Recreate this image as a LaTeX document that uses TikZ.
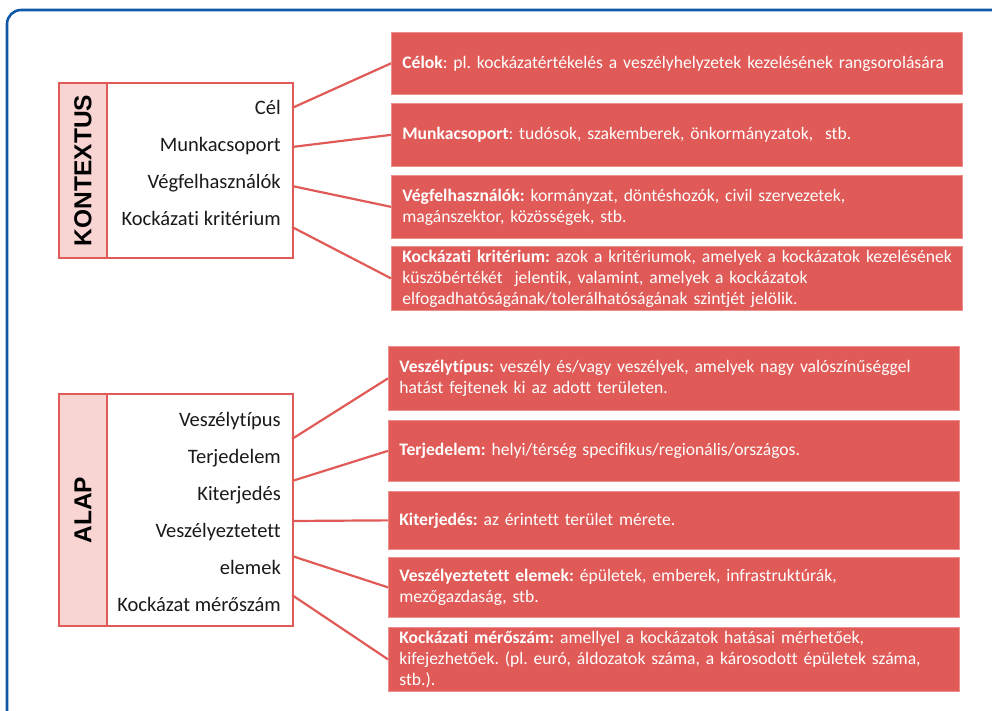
\documentclass[tikz,border=0pt]{standalone}
\usepackage{fontspec}
\setmainfont{Carlito}[Ligatures=NoCommon]
\newfontfamily\hdfont{Liberation Sans}
\definecolor{boxred}{HTML}{E05A57}
\definecolor{boxedge}{HTML}{EC8E8B}
\definecolor{linered}{HTML}{E05A57}
\definecolor{pinkfill}{HTML}{F8D4D2}
\definecolor{frameblue}{HTML}{0F58A8}
\definecolor{labtext}{HTML}{1A1A1A}
\hbadness=10000 \hfuzz=40pt
\begin{document}
\frenchspacing
\begin{tikzpicture}[x=1pt,y=-1pt,
  lab/.style={font=\fontsize{20.5}{22}\selectfont, text=labtext, anchor=base east, inner sep=0pt},
  rbox/.style={fill=boxred, draw=boxedge, line width=0.7pt, text=white,
    font=\fontsize{17.6}{21}\selectfont, align=left, text width=549pt,
    inner xsep=11pt, inner ysep=0pt, anchor=north west, minimum height=#1},
  conn/.style={draw=linered, line width=2.2pt},
  outerbox/.style={draw=linered, line width=2pt, fill=white, anchor=north west, inner sep=0pt},
  colbox/.style={draw=linered, line width=2pt, fill=pinkfill, anchor=north west, inner sep=0pt},
  headtxt/.style={rotate=90, font=\hdfont\bfseries\fontsize{24.5}{26}\selectfont, text=black}
]
\useasboundingbox (0,0) rectangle (992,711);
\begin{scope}
  \clip (0,0) rectangle (992,711);
  \draw[frameblue, line width=2.6pt, rounded corners=14pt] (7,10) rectangle (1010,730);
\end{scope}

% ---------- KONTEXTUS ----------
\node[outerbox, minimum width=234pt, minimum height=175pt] (kbox) at (58,82) {};
\node[colbox, minimum width=48pt, minimum height=175pt] (kcol) at (58,82) {};
\node[headtxt] (khead) at (kcol.center) {KONTEXTUS};
\node[lab] (k1) at (281,114.5) {Cél};
\node[lab] (k2) at (281,151.5) {Munkacsoport};
\node[lab] (k3) at (281,188.5) {Végfelhasználók};
\node[lab] (k4) at (281,225.5) {Kockázati kritérium};

\node[rbox=62pt] (r1) at (391,32) {\mbox{\textbf{Célok}: pl. kockázatértékelés a veszélyhelyzetek kezelésének rangsorolására}};
\node[rbox=63pt] (r2) at (391,103) {\mbox{\textbf{Munkacsoport}: tudósok, szakemberek, önkormányzatok,\ \ stb.}};
\node[rbox=63pt] (r3) at (391,175) {\mbox{\textbf{Végfelhasználók:} kormányzat, döntéshozók, civil szervezetek,}\\ \mbox{magánszektor, közösségek, stb.}};
\node[rbox=64pt] (r4) at (391,246) {\mbox{\textbf{Kockázati kritérium:} azok a kritériumok, amelyek a kockázatok kezelésének}\\ \mbox{küszöbértékét\ \ jelentik, valamint, amelyek a kockázatok}\\ \mbox{elfogadhatóságának/tolerálhatóságának szintjét jelölik.}};

\coordinate (kc1) at (292,108);
\coordinate (kc2) at (292,147);
\coordinate (kc3) at (292,186);
\coordinate (kc4) at (292,227);
\draw[conn] (kc1) -- (r1.west);
\draw[conn] (kc2) -- (r2.west);
\draw[conn] (kc3) -- (r3.west);
\draw[conn] (kc4) -- (r4.west);

% ---------- ALAP ----------
\node[outerbox, minimum width=234pt, minimum height=232pt] (abox) at (58,393) {};
\node[colbox, minimum width=48pt, minimum height=232pt] (acol) at (58,393) {};
\node[headtxt] (ahead) at (acol.center) {ALAP};
\node[lab] (a1) at (281,426) {Veszélytípus};
\node[lab] (a2) at (281,463) {Terjedelem};
\node[lab] (a3) at (281,500) {Kiterjedés};
\node[lab] (a4) at (281,537.3) {Veszélyeztetett};
\node[lab] (a5) at (281,574.3) {elemek};
\node[lab] (a6) at (281,611.7) {Kockázat mérőszám};

\node[rbox=64pt] (s1) at (388,346) {\mbox{\textbf{Veszélytípus:} veszély és/vagy veszélyek, amelyek nagy valószínűséggel}\\ \mbox{hatást fejtenek ki az adott területen.}};
\node[rbox=61pt] (s2) at (388,420) {\mbox{\textbf{Terjedelem:} helyi/térség specifikus/regionális/országos.}};
\node[rbox=58pt] (s3) at (388,491) {\mbox{\textbf{Kiterjedés:} az érintett terület mérete.}};
\node[rbox=60pt] (s4) at (388,557) {\mbox{\textbf{Veszélyeztetett elemek:} épületek, emberek, infrastruktúrák,}\\ \mbox{mezőgazdaság, stb.}};
\node[rbox=64pt] (s5) at (388,627) {\mbox{\textbf{Kockázati mérőszám:} amellyel a kockázatok hatásai mérhetőek,}\\ \mbox{kifejezhetőek. (pl. euró, áldozatok száma, a károsodott épületek száma,}\\ \mbox{stb.).}};

\coordinate (ac1) at (292,439);
\coordinate (ac2) at (292,481);
\coordinate (ac3) at (292,521);
\coordinate (ac4) at (292,556);
\coordinate (ac5) at (292,595);
\draw[conn] (ac1) -- (s1.west);
\draw[conn] (ac2) -- (s2.west);
\draw[conn] (ac3) -- (s3.west);
\draw[conn] (ac4) -- (s4.west);
\draw[conn] (ac5) -- (s5.west);
\end{tikzpicture}
\end{document}
